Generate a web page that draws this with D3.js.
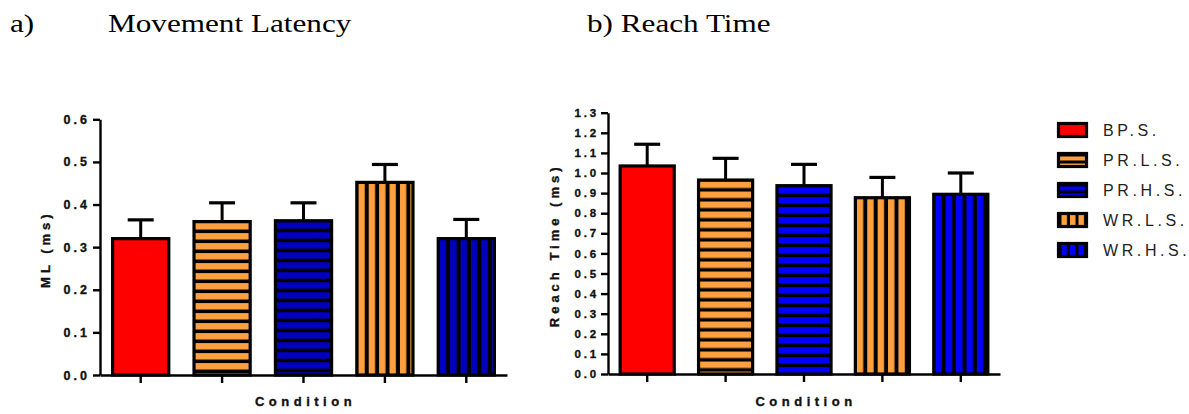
<!DOCTYPE html>
<html>
<head>
<meta charset="utf-8">
<script src="https://cdn.jsdelivr.net/npm/d3@7"></script>
<style>
  body { margin: 0; background: #fff; }
  svg { display: block; }
</style>
</head>
<body>
<div id="chart"></div>
<script>
// Data
const conditions = ["BP.S.", "PR.L.S.", "PR.H.S.", "WR.L.S.", "WR.H.S."];
const mlMeans = [0.32, 0.36, 0.362, 0.452, 0.32];
const mlErrors = [0.044, 0.044, 0.042, 0.042, 0.045];
const rtMeans = [1.035, 0.965, 0.937, 0.877, 0.894];
const rtErrors = [0.108, 0.108, 0.106, 0.101, 0.106];
const mlTicks = [0, 0.1, 0.2, 0.3, 0.4, 0.5, 0.6];
const rtTicks = [0, 0.1, 0.2, 0.3, 0.4, 0.5, 0.6, 0.7, 0.8, 0.9, 1.0, 1.1, 1.2, 1.3];

// fill style for each condition
const fills = [
  { color: "#ff0000", stripe: "none" },
  { color: "#ffa040", stripe: "h" },
  { color: "#0000ff", stripe: "h" },
  { color: "#ffa040", stripe: "v" },
  { color: "#0000ff", stripe: "v" }
];

const width = 1189, height = 414;

const svg = d3.select("#chart")
  .append("svg")
  .attr("width", width)
  .attr("height", height);

const defs = svg.append("defs");

// striped pattern anchored at (x0, y0)
function stripePattern(id, color, dir, x0, y0, period, blackW) {
  const p = defs.append("pattern")
    .attr("id", id)
    .attr("patternUnits", "userSpaceOnUse")
    .attr("x", x0)
    .attr("y", y0)
    .attr("width", period)
    .attr("height", period);
  p.append("rect").attr("width", period).attr("height", period).attr("fill", color);
  if (dir === "h") {
    p.append("rect").attr("x", 0).attr("y", period - blackW)
      .attr("width", period).attr("height", blackW).attr("fill", "#000");
  } else if (dir === "v") {
    p.append("rect").attr("x", period - blackW).attr("y", 0)
      .attr("width", blackW).attr("height", period).attr("fill", "#000");
  }
  return "url(#" + id + ")";
}

// Titles (Times-style, slightly wide)
function title(x, txt) {
  svg.append("text")
    .attr("transform", "translate(" + x + ",32) scale(1.2,1)")
    .attr("font-family", "Liberation Serif, Times New Roman, serif")
    .attr("font-size", 26)
    .attr("fill", "#000")
    .text(txt);
}
title(10, "a)");
title(108, "Movement Latency");
title(587, "b) Reach Time");

// bold axis text, a touch heavier like the original export
function boldText(sel, size, ls) {
  sel.attr("font-family", "Liberation Sans, Arial, sans-serif")
    .attr("font-weight", "bold")
    .attr("font-size", size)
    .attr("letter-spacing", ls)
    .attr("fill", "#111")
    .attr("stroke", "#111")
    .attr("stroke-width", 0.35);
}

function barChart(opts) {
  const g = svg.append("g");

  const x = d3.scaleBand()
    .domain(conditions)
    .range([opts.x0, opts.x1])
    .paddingInner(0.31)
    .paddingOuter(0.155);

  const y = d3.scaleLinear()
    .domain([0, opts.max])
    .range([opts.y0, opts.y1]);

  // bars
  conditions.forEach((c, i) => {
    const f = fills[i];
    const color = (opts.darkBlue && f.color === "#0000ff") ? "#0000c0" : f.color;
    const bx = x(c), bw = x.bandwidth();
    const by = y(opts.means[i]);
    let fill = color;
    if (f.stripe !== "none") {
      fill = stripePattern(opts.id + "p" + i, color, f.stripe, bx + 1.5, by + 1.5,
        f.stripe === "h" ? 10 : 10.4, f.stripe === "h" ? 3.5 : 4);
    }
    // error bar (upper only)
    const cx = bx + bw / 2;
    const ey = y(opts.means[i] + opts.errors[i]);
    g.append("line")
      .attr("x1", cx).attr("x2", cx)
      .attr("y1", by).attr("y2", ey)
      .attr("stroke", "#000").attr("stroke-width", 3);
    g.append("line")
      .attr("x1", cx - 13).attr("x2", cx + 13)
      .attr("y1", ey).attr("y2", ey)
      .attr("stroke", "#000").attr("stroke-width", 3.2);
    g.append("rect")
      .attr("x", bx)
      .attr("y", by)
      .attr("width", bw)
      .attr("height", y(0) - by)
      .attr("fill", fill)
      .attr("stroke", "#000")
      .attr("stroke-width", 3.2);
  });

  // y axis
  const yAxis = g.append("g")
    .attr("transform", "translate(" + opts.x0 + ",0)")
    .call(d3.axisLeft(y)
      .tickValues(opts.ticks)
      .tickFormat(d3.format(".1f"))
      .tickSize(7)
      .tickSizeOuter(0)
      .tickPadding(opts.tickPad));
  yAxis.selectAll("path, line").attr("stroke", "#000").attr("stroke-width", 2.4);
  boldText(yAxis.selectAll("text"), opts.tickFont, opts.tickLs);

  // x axis
  const xAxis = g.append("g")
    .attr("transform", "translate(0," + opts.y0 + ")")
    .call(d3.axisBottom(x).tickSize(8).tickSizeOuter(0).tickFormat(""));
  xAxis.selectAll("path, line").attr("stroke", "#000").attr("stroke-width", 2.4);

  // axis labels
  boldText(g.append("text")
    .attr("x", (opts.x0 + opts.x1) / 2 + 2)
    .attr("y", 406)
    .attr("text-anchor", "middle")
    .text("Condition"), 13, 4.5);

  boldText(g.append("text")
    .attr("transform", "translate(" + opts.labelX + "," + ((opts.y0 + opts.y1) / 2 + 2) + ") rotate(-90)")
    .attr("text-anchor", "middle")
    .text(opts.label), 13, 4);
}

barChart({
  id: "ml", means: mlMeans, errors: mlErrors, ticks: mlTicks, max: 0.6,
  x0: 100, x1: 507, y0: 375, y1: 119.3,
  tickPad: 3, tickFont: 12.5, tickLs: 3, labelX: 50, label: "ML (ms)", darkBlue: true
});

barChart({
  id: "rt", means: rtMeans, errors: rtErrors, ticks: rtTicks, max: 1.3,
  x0: 608, x1: 1000, y0: 374, y1: 112.7,
  tickPad: 2, tickFont: 11.5, tickLs: 2.8, labelX: 559, label: "Reach Time (ms)", darkBlue: false
});

// legend
const legend = svg.append("g").attr("transform", "translate(1057,122)");
conditions.forEach((c, i) => {
  const f = fills[i];
  const ly = i * 30;
  let fill = f.color;
  if (f.stripe !== "none") {
    fill = stripePattern("lg" + i, f.color, f.stripe, 1057 + 1.5, 122 + ly + 1.5,
      f.stripe === "h" ? 7 : 8.5, 3);
  }
  legend.append("rect")
    .attr("x", 1.5).attr("y", ly + 1.5)
    .attr("width", 28).attr("height", 13)
    .attr("fill", fill)
    .attr("stroke", "#000")
    .attr("stroke-width", 3.2);
  legend.append("text")
    .attr("x", 46)
    .attr("y", ly + 14)
    .attr("font-family", "Liberation Sans, Arial, sans-serif")
    .attr("font-size", 16)
    .attr("letter-spacing", 3.6)
    .attr("fill", "#222")
    .text(c);
});
</script>
</body>
</html>
